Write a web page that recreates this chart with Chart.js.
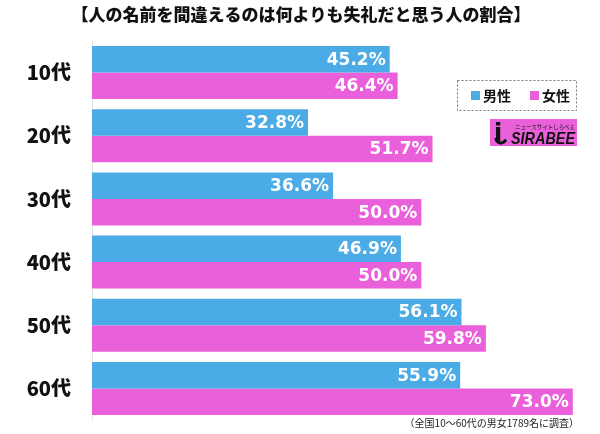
<!DOCTYPE html>
<html><head><meta charset="utf-8">
<script src="https://cdn.jsdelivr.net/npm/chart.js@4"></script>
<style>html,body{margin:0;padding:0;background:#fff}#w{width:600px;height:434px;position:relative}</style>
</head><body><div id="w"><canvas id="c" width="600" height="434"></canvas></div>
<script>
const titleText = '【人の名前を間違えるのは何よりも失礼だと思う人の割合】';
const footnote = '（全国10～60代の男女1789名に調査）';
const categories = ['10代','20代','30代','40代','50代','60代'];
const seriesNames = ['男性','女性'];
const maleValues = [45.2, 32.8, 36.6, 46.9, 56.1, 55.9];
const femaleValues = [46.4, 51.7, 50.0, 50.0, 59.8, 73.0];
const colors = ['#4BABE6','#EA60DB'];
const FONT = '"Noto Sans CJK JP", "Noto Sans", sans-serif';

function fitText(ctx, text, x, y, w){
  const m = ctx.measureText(text).width;
  ctx.save();
  ctx.translate(x, y);
  ctx.scale(w / m, 1);
  ctx.fillText(text, 0, 0);
  ctx.restore();
}

const deco = {
  id:'deco',
  afterDatasetsDraw(chart){
    const ctx = chart.ctx;
    ctx.save();
    // data labels
    ctx.font = 'bold 17px "DejaVu Sans", sans-serif';
    ctx.fillStyle = '#fff';
    ctx.textAlign = 'right';
    ctx.textBaseline = 'middle';
    chart.data.datasets.forEach((ds, di) => {
      chart.getDatasetMeta(di).data.forEach((bar, i) => {
        ctx.fillText(ds.data[i].toFixed(1) + '%', bar.x - 4, bar.y + 1);
      });
    });
    // title
    ctx.fillStyle = '#111';
    ctx.textAlign = 'center';
    ctx.font = '900 17px ' + FONT;
    ctx.fillText(titleText, 301, 15);
    // footnote
    ctx.font = '10px ' + FONT;
    ctx.textAlign = 'right';
    ctx.fillStyle = '#222';
    ctx.fillText(footnote, 579, 423);
    // legend
    ctx.setLineDash([2,2]);
    ctx.strokeStyle = '#777';
    ctx.lineWidth = 1;
    ctx.strokeRect(457.5, 80.5, 119, 30);
    ctx.setLineDash([]);
    ctx.textAlign = 'left';
    ctx.font = 'bold 14px ' + FONT;
    const lx = [471, 530];
    seriesNames.forEach((n, i) => {
      ctx.fillStyle = colors[i];
      ctx.fillRect(lx[i], 91, 9, 9);
      ctx.fillStyle = '#111';
      ctx.fillText(n, lx[i] + 12, 96);
    });
    // logo
    ctx.fillStyle = '#EA60DB';
    ctx.fillRect(490, 119, 87, 27);
    ctx.fillStyle = '#111';
    ctx.textBaseline = 'alphabetic';
    ctx.font = 'bold italic 17px "Liberation Sans", sans-serif';
    fitText(ctx, 'SIRABEE', 511, 144, 64);
    ctx.font = 'bold 24px "DejaVu Sans", sans-serif';
    ctx.fillText('i', 494, 141);
    ctx.beginPath();
    ctx.lineWidth = 3;
    ctx.strokeStyle = '#111';
    ctx.arc(501, 138, 5, Math.PI * 0.1, Math.PI * 1.0);
    ctx.stroke();
    ctx.font = '6px ' + FONT;
    fitText(ctx, 'ニュースサイトしらべぇ', 515, 129, 60);
    ctx.restore();
  }
};

new Chart(document.getElementById('c'), {
  type:'bar',
  data:{
    labels: categories,
    datasets:[
      {label: seriesNames[0], data: maleValues, backgroundColor: colors[0], barPercentage:1, categoryPercentage:0.84},
      {label: seriesNames[1], data: femaleValues, backgroundColor: colors[1], barPercentage:1, categoryPercentage:0.84}
    ]
  },
  options:{
    indexAxis:'y',
    responsive:false,
    animation:false,
    layout:{padding:{top:41, bottom:14, right:14, left:0}},
    plugins:{legend:{display:false}, tooltip:{enabled:false}},
    scales:{
      x:{min:0, max:75, display:false, grid:{display:false}},
      y:{
        grid:{display:false, drawTicks:false},
        border:{display:true, color:'#e4e4e4', width:1},
        ticks:{color:'#111', font:{family:FONT, size:20, weight:'900'}, padding:21},
        afterFit(s){ s.width = 92; s.paddingTop = 0; s.paddingBottom = 0; }
      }
    }
  },
  plugins:[deco]
});
</script></body></html>
